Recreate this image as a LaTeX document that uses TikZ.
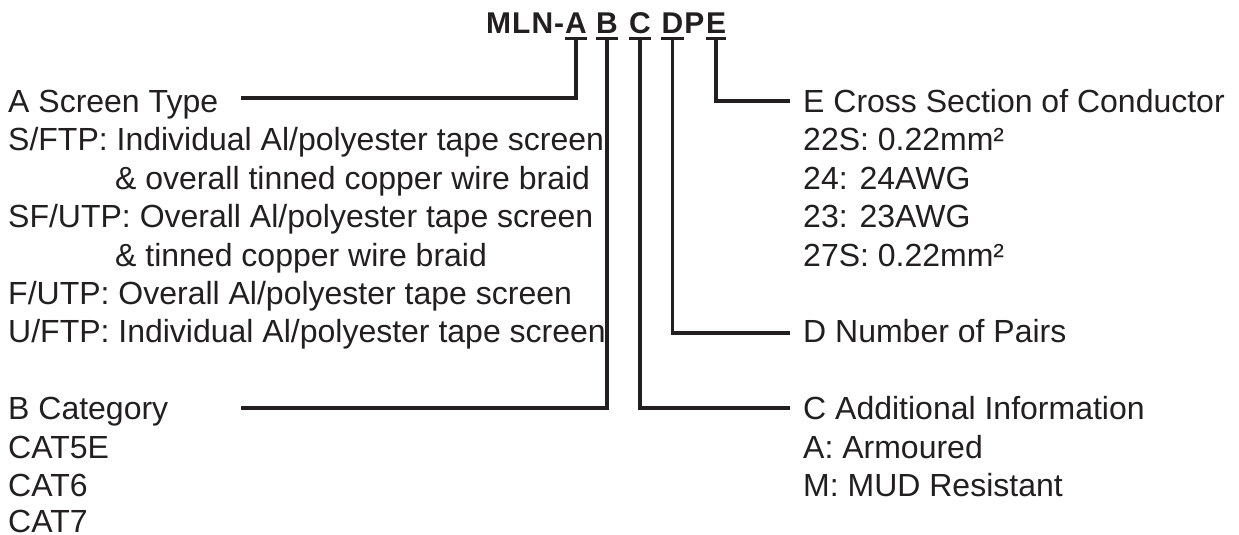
\documentclass[tikz,border=0pt]{standalone}
\usepackage{fontspec}
\setmainfont{Liberation Sans}
\definecolor{ink}{HTML}{231F20}
\begin{document}
\begin{tikzpicture}[x=1pt,y=-1pt,
  txt/.style={font=\fontsize{32}{38.4}\selectfont, text=ink, inner sep=0pt, anchor=base west},
  tl/.style={font=\fontsize{30}{36}\selectfont\bfseries, text=ink, inner sep=0pt, anchor=base},
  conn/.style={draw=ink, line width=3.2pt},
  ul/.style={draw=ink, line width=3pt}]
\useasboundingbox[fill=white] (0,0) rectangle (1239,535);
% title letters
\node[tl] (tM) at (498.7,34) {M};
\node[tl] (tL) at (521.4,34) {L};
\node[tl] (tN) at (542.4,34) {N};
\node[tl] (tH) at (559.2,34) {-};
\node[tl] (tA) at (576,34) {A};
\node[tl] (tB) at (607,34) {B};
\node[tl] (tC) at (640,34) {C};
\node[tl] (tD) at (672.5,34) {D};
\node[tl] (tP) at (694.3,34) {P};
\node[tl] (tE) at (716,34) {E};
% underlines
\foreach \n in {tA,tB,tC,tD,tE}{
  \draw[ul] (\n.west |- 0,38.5) -- (\n.east |- 0,38.5);
}
% left column
\node[txt] (l0) at (8,112.5) {A Screen Type};
\node[txt] (l1) at (8,150.9) {S/FTP: Individual Al/polyester tape screen};
\node[txt] (l2) at (115,189.3) {\& overall tinned copper wire braid};
\node[txt] (l3) at (8,227.7) {SF/UTP: Overall Al/polyester tape screen};
\node[txt] (l4) at (115,266.1) {\& tinned copper wire braid};
\node[txt] (l5) at (8,304.5) {F/UTP: Overall Al/polyester tape screen};
\node[txt] (l6) at (8,342.9) {U/FTP: Individual Al/polyester tape screen};
\node[txt] (l8) at (8,419.7) {B Category};
\node[txt] (l9) at (8,458.1) {CAT5E};
\node[txt] (l10) at (8,496.3) {CAT6};
\node[txt] (l11) at (8,532.8) {CAT7};
% right column
\node[txt] (r0) at (803,112.5) {E Cross Section of Conductor};
\node[txt] (r1) at (803,150.9) {22S: 0.22mm²};
\node[txt] (r2) at (803,189.3) {24: 24AWG};
\node[txt] (r3) at (803,227.7) {23: 23AWG};
\node[txt] (r4) at (803,266.1) {27S: 0.22mm²};
\node[txt] (r6) at (803,342.9) {D Number of Pairs};
\node[txt] (r8) at (803,419.7) {C Additional Information};
\node[txt] (r9) at (803,458.1) {A: Armoured};
\node[txt] (r10) at (803,496.3) {M: MUD Resistant};
% connector ends
\coordinate (aend) at (241,98);
\coordinate (bend) at (241,408);
\coordinate (cend) at (790,408);
\coordinate (dend) at (790,333);
\coordinate (eend) at (790,101);
\draw[conn] (tA |- 0,38.5) |- (aend);
\draw[conn] (tB |- 0,38.5) |- (bend);
\draw[conn] (tC |- 0,38.5) |- (cend);
\draw[conn] (tD |- 0,38.5) |- (dend);
\draw[conn] (tE |- 0,38.5) |- (eend);
\end{tikzpicture}
\end{document}
